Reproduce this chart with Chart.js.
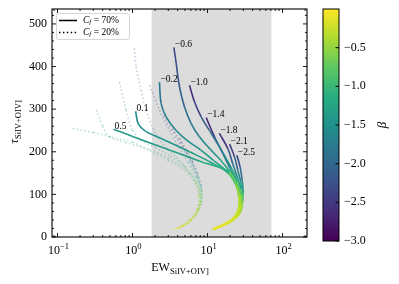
<!DOCTYPE html>
<html>
<head>
<meta charset="utf-8">
<script src="https://cdn.jsdelivr.net/npm/chart.js@4.4.1/dist/chart.umd.min.js"></script>
<style>
  html, body { margin: 0; background: #fff; }
</style>
</head>
<body>
<canvas id="chart" width="399" height="284"></canvas>
<script>
// each point: [EW, tau, beta]  (beta only sets the colour)
const solidLabels = ['0.5', '0.1', '−0.2', '−0.6', '−1.0', '−1.4', '−1.8', '−2.1', '−2.5'];

const solid05 = [[0.56,253,-1.4],[1.0,236,-1.4],[3.1,204,-1.38],[7.9,178,-1.3],[19.7,152,-0.95],[24,122,-0.55],[26,95,-0.4],[26,70,-0.3],[23,48,-0.2],[18,33,-0.15],[14,24,-0.1],[11.5,18,-0.1]];
const solid01 = [[1.1,295,-1.6],[1.2,265,-1.55],[1.5,248,-1.5],[2.5,230,-1.45],[5.75,200,-1.4],[12,172,-1.25],[19,150,-0.95],[23.5,125,-0.65],[26.5,95,-0.45],[26.5,68,-0.3],[23,47,-0.2],[18,33,-0.15],[14,24,-0.1],[11.6,18,-0.1]];
const solidM02 = [[2.29,363,-1.9],[2.41,313,-1.8],[2.81,282,-1.7],[3.82,250,-1.6],[5.5,225,-1.5],[8,205,-1.45],[12,180,-1.3],[17,158,-1.1],[22,135,-0.8],[25.5,108,-0.55],[27,80,-0.35],[25,55,-0.25],[20,38,-0.15],[15,26,-0.1],[11.7,18,-0.1]];
const solidM06 = [[3.56,445,-2.35],[3.82,408,-2.3],[4.24,352,-2.15],[4.94,305,-1.95],[6.06,266,-1.8],[7.8,235,-1.65],[11,205,-1.5],[15,180,-1.35],[19.5,155,-1.1],[23.5,130,-0.8],[26.5,100,-0.55],[27.5,75,-0.35],[25,52,-0.25],[20,37,-0.15],[15,26,-0.1],[11.8,18,-0.1]];
const solidM10 = [[5.75,356,-2.75],[6.72,317,-2.5],[8.24,282,-2.25],[10.6,250,-2.0],[13.5,220,-1.8],[17,190,-1.6],[21,160,-1.3],[25,130,-0.95],[27.5,100,-0.65],[28,75,-0.4],[25.5,52,-0.3],[20,36,-0.2],[15,26,-0.15],[12,19,-0.1]];
const solidM14 = [[9.6,280,-2.8],[12.4,235,-2.45],[16,196,-2.05],[19.6,164,-1.7],[23.5,135,-1.3],[27,108,-0.85],[28.5,82,-0.5],[26.5,55,-0.35],[21,38,-0.2],[16,27,-0.15],[12.2,19,-0.1]];
const solidM18 = [[14.4,243,-2.8],[18.7,207,-2.4],[21.7,172,-1.95],[25,140,-1.5],[28,112,-1.05],[29,85,-0.6],[27,57,-0.4],[21.5,39,-0.25],[16,27,-0.15],[12.3,19,-0.1]];
const solidM21 = [[19.7,218,-2.65],[22.9,188,-2.25],[25.4,156,-1.85],[27.8,128,-1.4],[29.3,100,-0.9],[29,75,-0.55],[26.5,53,-0.4],[21,37,-0.25],[16,27,-0.15],[12.4,19,-0.1]];
const solidM25 = [[24.6,192,-2.5],[27.2,164,-2.15],[29,133,-1.75],[29.8,105,-1.3],[29.3,82,-0.8],[27.5,60,-0.5],[22,40,-0.3],[16.5,28,-0.2],[12.5,19,-0.1]];

const dotted05 = [[0.16,255,-1.5],[0.3,245,-1.45],[0.6,232,-1.4],[1.0,222,-1.35],[1.7,202,-1.25],[3,180,-1.1],[5,155,-0.9],[6.8,125,-0.7],[7.6,95,-0.5],[7.2,65,-0.35],[5.8,40,-0.25],[4.5,26,-0.15],[3.5,18,-0.1]];
const dotted01 = [[0.33,298,-1.7],[0.4,260,-1.6],[0.5,235,-1.5],[0.8,222,-1.45],[1.7,205,-1.35],[3,185,-1.2],[5,160,-1.0],[7,128,-0.75],[7.8,95,-0.5],[7.3,63,-0.35],[5.8,38,-0.25],[4.5,25,-0.15],[3.5,18,-0.1]];
const dottedM02 = [[0.67,364,-2.0],[0.82,298,-1.8],[1.01,250,-1.6],[1.3,228,-1.5],[2,210,-1.4],[3.2,190,-1.25],[5,165,-1.05],[7,132,-0.8],[7.9,98,-0.55],[7.4,65,-0.4],[6,40,-0.25],[4.6,26,-0.15],[3.6,18,-0.1]];
const dottedM06 = [[1.06,443,-2.3],[1.12,400,-2.2],[1.3,345,-2.0],[1.52,298,-1.85],[2.07,240,-1.65],[3,205,-1.45],[4.2,180,-1.3],[5.8,150,-1.1],[7.3,120,-0.85],[8,95,-0.6],[7.5,63,-0.4],[6,40,-0.25],[4.6,26,-0.15],[3.6,18,-0.1]];
const dottedM10 = [[1.69,356,-2.7],[2.29,298,-2.4],[3.1,250,-2.1],[4.2,210,-1.8],[5.5,175,-1.5],[7,140,-1.15],[8,105,-0.8],[7.8,75,-0.55],[6.5,48,-0.35],[5,30,-0.2],[3.7,19,-0.1]];
const dottedM14 = [[2.6,285,-2.8],[3.5,245,-2.45],[4.6,210,-2.1],[5.8,178,-1.75],[7.1,145,-1.35],[8.1,110,-0.95],[8,78,-0.6],[6.7,50,-0.4],[5.1,31,-0.25],[3.8,19,-0.1]];
const dottedM18 = [[3.4,255,-2.8],[4.4,222,-2.45],[5.5,190,-2.05],[6.8,158,-1.65],[7.9,125,-1.2],[8.3,95,-0.8],[7.7,65,-0.5],[6.3,42,-0.3],[4.8,27,-0.2],[3.8,19,-0.1]];
const dottedM21 = [[4.3,232,-2.6],[5.3,200,-2.25],[6.4,170,-1.9],[7.5,140,-1.5],[8.3,110,-1.05],[8.2,80,-0.65],[7.2,55,-0.4],[5.7,35,-0.25],[4.5,24,-0.15],[3.9,19,-0.1]];
const dottedM25 = [[5.2,205,-2.45],[6.3,178,-2.1],[7.4,150,-1.7],[8.3,120,-1.25],[8.5,95,-0.85],[8,70,-0.55],[6.8,48,-0.35],[5.3,31,-0.2],[4,20,-0.1]];

const solidCurves = [solid05, solid01, solidM02, solidM06, solidM10, solidM14, solidM18, solidM21, solidM25];
const dottedCurves = [dotted05, dotted01, dottedM02, dottedM06, dottedM10, dottedM14, dottedM18, dottedM21, dottedM25];

const shadeRange = [1.8, 71];
const xMajorExp = [-1, 0, 1, 2];
const yTicks = [0, 100, 200, 300, 400, 500];
const cbarTicks = [-3.0, -2.5, -2.0, -1.5, -1.0, -0.5];
const betaRange = [-3, 0];
const legendLabels = ['70%', '20%'];

const SERIF = '"Liberation Serif", "DejaVu Serif", serif';

// viridis
const VIR = ['#440154', '#472d7b', '#3b528b', '#2c728e', '#21918c', '#28ae80', '#5ec962', '#addc30', '#fde725']
    .map(h => [1, 3, 5].map(i => parseInt(h.substr(i, 2), 16)));

function viridis(beta, alpha = 1) {
    let t = (beta - betaRange[0]) / (betaRange[1] - betaRange[0]);
    t = Math.max(0, Math.min(1, t)) * (VIR.length - 1);
    const i = Math.min(Math.floor(t), VIR.length - 2);
    const f = t - i;
    const c = VIR[i].map((v, k) => Math.round(v + (VIR[i + 1][k] - v) * f));
    return `rgba(${c[0]},${c[1]},${c[2]},${alpha})`;
}

function makeDataset(points, dotted) {
    const alpha = dotted ? 0.32 : 1;
    return {
        data: points.map(p => ({ x: p[0], y: p[1] })),
        borderWidth: dotted ? 1.5 : 1.6,
        borderDash: dotted ? [1.5, 2.4] : [],
        borderColor: viridis(points[0][2], alpha),
        segment: {
            borderColor: ctx => viridis((points[ctx.p0DataIndex][2] + points[ctx.p1DataIndex][2]) / 2, alpha)
        },
        pointRadius: 0,
        tension: 0.4,
        fill: false,
        order: dotted ? 1 : 0
    };
}

const datasets = [
    ...dottedCurves.map(c => makeDataset(c, true)),
    ...solidCurves.map(c => makeDataset(c, false))
];

// draw a run of text pieces [{t, size, italic, dy}]
function richText(ctx, parts, x, y, align) {
    const fontOf = p => `${p.italic ? 'italic ' : ''}${p.size}px ${SERIF}`;
    let w = 0;
    parts.forEach(p => { ctx.font = fontOf(p); w += ctx.measureText(p.t).width; });
    let cx = align === 'center' ? x - w / 2 : align === 'right' ? x - w : x;
    parts.forEach(p => {
        ctx.font = fontOf(p);
        ctx.fillText(p.t, cx, y + (p.dy || 0));
        cx += ctx.measureText(p.t).width;
    });
}

const decor = {
    id: 'decor',
    beforeDatasetsDraw(chart) {
        const { ctx, chartArea: a, scales: { x } } = chart;
        ctx.save();
        ctx.fillStyle = '#dcdcdc';
        const x0 = x.getPixelForValue(shadeRange[0]);
        const x1 = x.getPixelForValue(shadeRange[1]);
        ctx.fillRect(x0, a.top, x1 - x0, a.bottom - a.top);
        ctx.restore();
    },
    afterDraw(chart) {
        const { ctx, chartArea: a, scales: { x, y } } = chart;
        ctx.save();
        ctx.strokeStyle = '#000';
        ctx.fillStyle = '#000';

        // ticks, inward on all four sides
        ctx.lineWidth = 0.9;
        const tick = (px, len, horiz) => {
            ctx.beginPath();
            if (horiz) {
                ctx.moveTo(px, a.bottom); ctx.lineTo(px, a.bottom - len);
                ctx.moveTo(px, a.top); ctx.lineTo(px, a.top + len);
            } else {
                ctx.moveTo(a.left, px); ctx.lineTo(a.left + len, px);
                ctx.moveTo(a.right, px); ctx.lineTo(a.right - len, px);
            }
            ctx.stroke();
        };
        for (let d = -2; d <= 2; d++) {
            for (let m = 1; m <= 9; m++) {
                const v = m * Math.pow(10, d);
                if (v < x.min || v > x.max) continue;
                tick(x.getPixelForValue(v), m === 1 ? 4 : 2, true);
            }
        }
        for (let v = 0; v <= y.max; v += 20) {
            tick(y.getPixelForValue(v), v % 100 === 0 ? 4 : 2, false);
        }

        // frame
        ctx.lineWidth = 1.1;
        ctx.strokeRect(a.left, a.top, a.right - a.left, a.bottom - a.top);

        // tick labels
        ctx.textBaseline = 'middle';
        ctx.textAlign = 'right';
        ctx.font = `12px ${SERIF}`;
        yTicks.forEach(v => ctx.fillText(String(v), a.left - 5, y.getPixelForValue(v)));
        ctx.textAlign = 'left';
        ctx.textBaseline = 'alphabetic';
        xMajorExp.forEach(e => {
            richText(ctx, [
                { t: '10', size: 12 },
                { t: e < 0 ? '−' + (-e) : String(e), size: 8.5, dy: -5 }
            ], x.getPixelForValue(Math.pow(10, e)) + 1, a.bottom + 17, 'center');
        });

        // axis titles
        richText(ctx, [
            { t: 'EW', size: 12 },
            { t: 'SiIV+OIV]', size: 8.5, dy: 3 }
        ], (a.left + a.right) / 2 + 0.5, a.bottom + 34, 'center');
        ctx.save();
        ctx.translate(18, 122);
        ctx.rotate(-Math.PI / 2);
        richText(ctx, [
            { t: 'τ', size: 13, italic: true },
            { t: 'SiIV+OIV]', size: 8.5, dy: 3 }
        ], 0, 0, 'center');
        ctx.restore();

        // curve labels at the start of each solid curve
        ctx.font = `9.5px ${SERIF}`;
        solidCurves.forEach((c, i) => {
            const px = x.getPixelForValue(c[0][0]);
            const py = y.getPixelForValue(c[0][1]);
            ctx.fillText(solidLabels[i], px + 1, py - 0.5);
        });

        // legend
        const lx = a.left + 4, ly = a.top + 4, lw = 73, lh = 26;
        ctx.fillStyle = 'rgba(255,255,255,0.85)';
        ctx.strokeStyle = '#cccccc';
        ctx.lineWidth = 0.8;
        ctx.beginPath();
        ctx.roundRect(lx + 0.5, ly + 0.5, lw, lh, 2);
        ctx.fill();
        ctx.stroke();
        ctx.strokeStyle = '#000';
        ctx.fillStyle = '#000';
        legendLabels.forEach((t, i) => {
            const yy = ly + 7.5 + i * 12;
            ctx.lineWidth = 1.5;
            ctx.setLineDash(i === 0 ? [] : [1.5, 2.4]);
            ctx.beginPath();
            ctx.moveTo(lx + 3, yy);
            ctx.lineTo(lx + 21, yy);
            ctx.stroke();
            ctx.setLineDash([]);
            ctx.textBaseline = 'middle';
            richText(ctx, [
                { t: 'C', size: 9.5, italic: true },
                { t: 'f', size: 7, italic: true, dy: 2 },
                { t: ' = ' + t, size: 9.5 }
            ], lx + 27, yy, 'left');
        });

        // colour bar
        const cbL = 323, cbR = 339, cbT = a.top, cbB = 241;
        const g = ctx.createLinearGradient(0, cbB, 0, cbT);
        VIR.forEach((c, i) => g.addColorStop(i / (VIR.length - 1), `rgb(${c[0]},${c[1]},${c[2]})`));
        ctx.fillStyle = g;
        ctx.fillRect(cbL, cbT, cbR - cbL, cbB - cbT);
        ctx.lineWidth = 1;
        ctx.strokeRect(cbL, cbT, cbR - cbL, cbB - cbT);
        ctx.fillStyle = '#000';
        ctx.textAlign = 'left';
        ctx.textBaseline = 'middle';
        ctx.font = `12px ${SERIF}`;
        cbarTicks.forEach(v => {
            const py = cbB - (v - betaRange[0]) / (betaRange[1] - betaRange[0]) * (cbB - cbT);
            ctx.beginPath();
            ctx.moveTo(cbR, py);
            ctx.lineTo(cbR - 3.5, py);
            ctx.stroke();
            ctx.fillText('−' + Math.abs(v).toFixed(1), cbR + 5, py);
        });
        ctx.save();
        ctx.translate(383, 125);
        ctx.rotate(-Math.PI / 2);
        ctx.textAlign = 'center';
        ctx.font = `italic 13px ${SERIF}`;
        ctx.fillText('β', 0, 0);
        ctx.restore();

        ctx.restore();
    }
};

new Chart(document.getElementById('chart'), {
    type: 'line',
    data: { datasets },
    options: {
        responsive: false,
        devicePixelRatio: 1,
        animation: false,
        layout: { padding: { left: 52, top: 9, right: 92, bottom: 47 } },
        scales: {
            x: { type: 'logarithmic', min: 0.0845, max: 212, display: false },
            y: { type: 'linear', min: 0, max: 535, display: false }
        },
        plugins: { legend: { display: false }, tooltip: { enabled: false } }
    },
    plugins: [decor]
});
</script>
</body>
</html>
